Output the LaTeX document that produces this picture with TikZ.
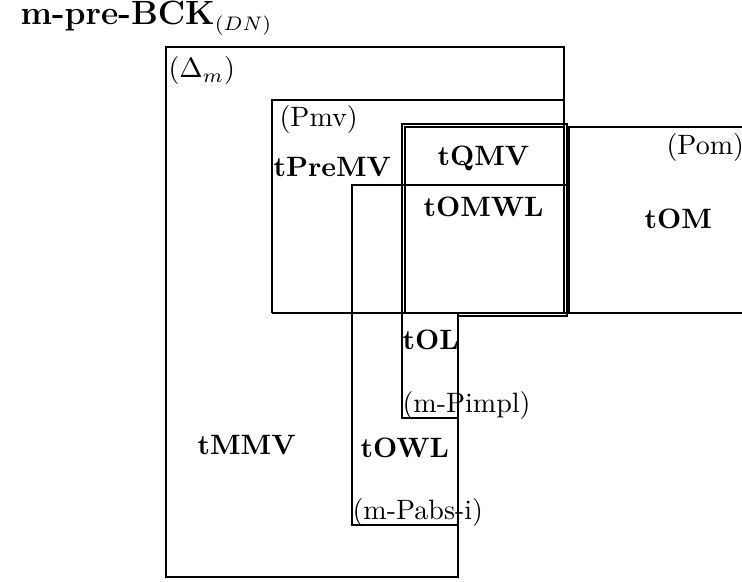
\documentclass[tikz,border=0pt]{standalone}
\begin{document}
\begin{tikzpicture}[x=0.357pt, y=-0.357pt]
    \tikzset{clsname/.style={font=\bfseries, anchor=base west, inner sep=0pt},
             condname/.style={anchor=base west, inner sep=0pt}}

    \def\rightLimit{742}

    \useasboundingbox (0,0) rectangle (\rightLimit,582);

    % Outer region (Delta_m)
    \draw (166,47) -- (564,47) -- (564,313) -- (458,313) -- (458,577) -- (166,577) -- cycle;

    % Region (Pmv)
    \draw (272,313) -- (272,100) -- (564,100);
    \draw (272,313) -- (\rightLimit,313);

    % Region (Pom)
    \draw (569,313) -- (569,127) -- (\rightLimit,127);

    % tQMV and tOL
    \draw (402,124) -- (567,124) -- (567,316) -- (458,316) -- (458,418) -- (402,418) -- cycle;
    \draw (405,127) rectangle (564,313);

    % tOWL and (m-Pabs-i)
    \draw (567,185) -- (352,185) -- (352,525) -- (458,525);

    % Labels
    \node[anchor=base west, inner sep=0pt] (title) at (20,25) {{\large\bfseries m-pre-BCK}$_{(DN)}$};
    \node[condname] (deltam) at (168,78) {($\Delta_m$)};
    \node[condname] (pmv) at (279,127) {(Pmv)};
    \node[condname] (pom) at (666,155) {(Pom)};
    \node[condname] (mpimpl) at (402,413) {(m-Pimpl)};
    \node[condname] (mpabsi) at (352,520) {(m-Pabs-i)};

    \node[clsname] (tpremv) at (273,177) {tPreMV};
    \node[clsname] (tqmv) at (437,166) {tQMV};
    \node[clsname] (tomwl) at (423,217) {tOMWL};
    \node[clsname] (tom) at (644,229) {tOM};
    \node[clsname] (tol) at (402,350) {tOL};
    \node[clsname] (towl) at (360,458) {tOWL};
    \node[clsname] (tmmv) at (197,455) {tMMV};

\end{tikzpicture}
\end{document}
